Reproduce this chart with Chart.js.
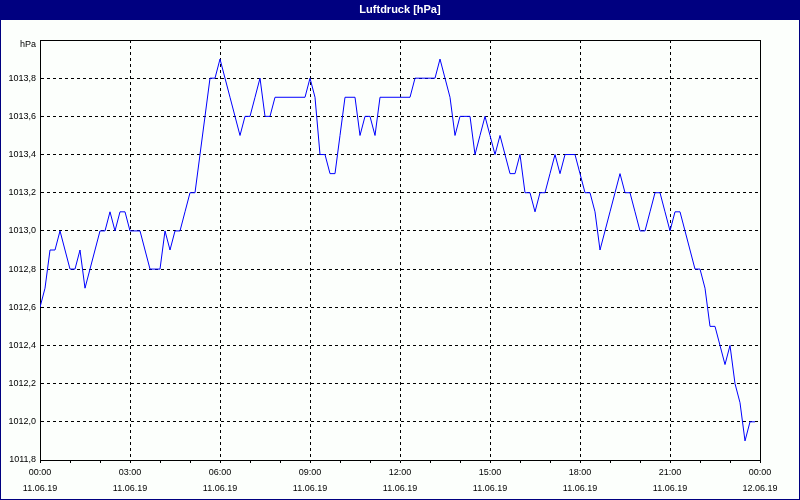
<!DOCTYPE html>
<html>
<head>
<meta charset="utf-8">
<script src="https://cdn.jsdelivr.net/npm/chart.js@4.4.1/dist/chart.umd.min.js"></script>
<style>
  html, body { margin: 0; padding: 0; background: #fff; }
  canvas { display: block; }
</style>
</head>
<body>
<canvas id="myChart" width="800" height="500"></canvas>
<script>
// one reading every 10 minutes, 11.06.19 00:00 - 23:50
var sampleMinutes = 10;
var pressure = [
  1012.6, 1012.7, 1012.9, 1012.9, 1013.0, 1012.9, 1012.8, 1012.8, 1012.9, 1012.7, 1012.8, 1012.9,
  1013.0, 1013.0, 1013.1, 1013.0, 1013.1, 1013.1, 1013.0, 1013.0, 1013.0, 1012.9, 1012.8, 1012.8,
  1012.8, 1013.0, 1012.9, 1013.0, 1013.0, 1013.1, 1013.2, 1013.2, 1013.4, 1013.6, 1013.8, 1013.8,
  1013.9, 1013.8, 1013.7, 1013.6, 1013.5, 1013.6, 1013.6, 1013.7, 1013.8, 1013.6, 1013.6, 1013.7,
  1013.7, 1013.7, 1013.7, 1013.7, 1013.7, 1013.7, 1013.8, 1013.7, 1013.4, 1013.4, 1013.3, 1013.3,
  1013.5, 1013.7, 1013.7, 1013.7, 1013.5, 1013.6, 1013.6, 1013.5, 1013.7, 1013.7, 1013.7, 1013.7,
  1013.7, 1013.7, 1013.7, 1013.8, 1013.8, 1013.8, 1013.8, 1013.8, 1013.9, 1013.8, 1013.7, 1013.5,
  1013.6, 1013.6, 1013.6, 1013.4, 1013.5, 1013.6, 1013.5, 1013.4, 1013.5, 1013.4, 1013.3, 1013.3,
  1013.4, 1013.2, 1013.2, 1013.1, 1013.2, 1013.2, 1013.3, 1013.4, 1013.3, 1013.4, 1013.4, 1013.4,
  1013.3, 1013.2, 1013.2, 1013.1, 1012.9, 1013.0, 1013.1, 1013.2, 1013.3, 1013.2, 1013.2, 1013.1,
  1013.0, 1013.0, 1013.1, 1013.2, 1013.2, 1013.1, 1013.0, 1013.1, 1013.1, 1013.0, 1012.9, 1012.8,
  1012.8, 1012.7, 1012.5, 1012.5, 1012.4, 1012.3, 1012.4, 1012.2, 1012.1, 1011.9, 1012.0, 1012.0
];
var timeLabels = ["00:00", "03:00", "06:00", "09:00", "12:00", "15:00", "18:00", "21:00", "00:00"];
var dateLabels = ["11.06.19", "11.06.19", "11.06.19", "11.06.19", "11.06.19", "11.06.19", "11.06.19", "11.06.19", "12.06.19"];
var yUnit = "hPa";
var title = "Luftdruck [hPa]";

var points = pressure.map(function (v, i) { return { x: i * sampleMinutes, y: v }; });

var navy = "#000080";
var fontFamily = "'Liberation Sans', Arial, sans-serif";

// window look: title bar, outer frame, top/right edge of the plot
var frame = {
  id: "frame",
  beforeDraw: function (chart) {
    var ctx = chart.ctx;
    ctx.save();
    ctx.fillStyle = "#fcfffc";
    ctx.fillRect(0, 0, chart.width, chart.height);
    ctx.fillStyle = navy;
    ctx.fillRect(0, 0, chart.width, 20);
    ctx.fillStyle = "#fff";
    ctx.font = "bold 11px " + fontFamily;
    ctx.textAlign = "center";
    ctx.textBaseline = "middle";
    ctx.fillText(title, chart.width / 2, 10);
    ctx.restore();
  },
  afterDraw: function (chart) {
    var ctx = chart.ctx, a = chart.chartArea;
    ctx.save();
    ctx.strokeStyle = "#000";
    ctx.lineWidth = 1;
    ctx.beginPath();
    ctx.moveTo(a.left, a.top + 0.5);
    ctx.lineTo(a.right + 0.5, a.top + 0.5);
    ctx.lineTo(a.right + 0.5, a.bottom);
    ctx.stroke();
    ctx.strokeStyle = navy;
    ctx.lineWidth = 2;
    ctx.strokeRect(0, 0, chart.width, chart.height);
    ctx.restore();
  }
};

var ctx = document.getElementById("myChart").getContext("2d");
var myChart = new Chart(ctx, {
  type: "line",
  data: {
    datasets: [{
      data: points,
      borderColor: "#0000ff",
      borderWidth: 1,
      pointRadius: 0,
      tension: 0,
      fill: false
    }]
  },
  options: {
    responsive: false,
    animation: false,
    layout: { padding: { top: 40, right: 40, left: 0, bottom: 0 } },
    plugins: { legend: { display: false }, tooltip: { enabled: false } },
    scales: {
      x: {
        type: "linear",
        min: 0,
        max: 1440,
        afterFit: function (s) { s.height = 40; },
        grid: {
          color: function (c) { return c.tick && c.tick.value % 180 === 0 ? "#000" : "rgba(0,0,0,0)"; },
          tickColor: "#000",
          tickLength: 3,
          lineWidth: 1
        },
        border: { display: true, color: "#000", dash: [3, 3] },
        ticks: {
          stepSize: 60,
          autoSkip: false,
          maxRotation: 0,
          padding: 2,
          color: "#000",
          font: { family: fontFamily, size: 9, lineHeight: "16px" },
          callback: function (v) {
            if (v % 180 !== 0) return "";
            var k = v / 180;
            return [timeLabels[k], dateLabels[k]];
          }
        }
      },
      y: {
        min: 1011.8,
        max: 1014.0,
        afterFit: function (s) { s.width = 40; },
        grid: { color: "#000", drawTicks: false, lineWidth: 1 },
        border: { display: true, color: "#000", dash: [3, 3] },
        ticks: {
          stepSize: 0.2,
          padding: 4,
          color: "#000",
          font: { family: fontFamily, size: 9, lineHeight: "10px" },
          callback: function (v) {
            if (Math.abs(v - 1014.0) < 0.01) return ["", yUnit];
            return v.toFixed(1).replace(".", ",");
          }
        }
      }
    }
  },
  plugins: [frame]
});
</script>
</body>
</html>
